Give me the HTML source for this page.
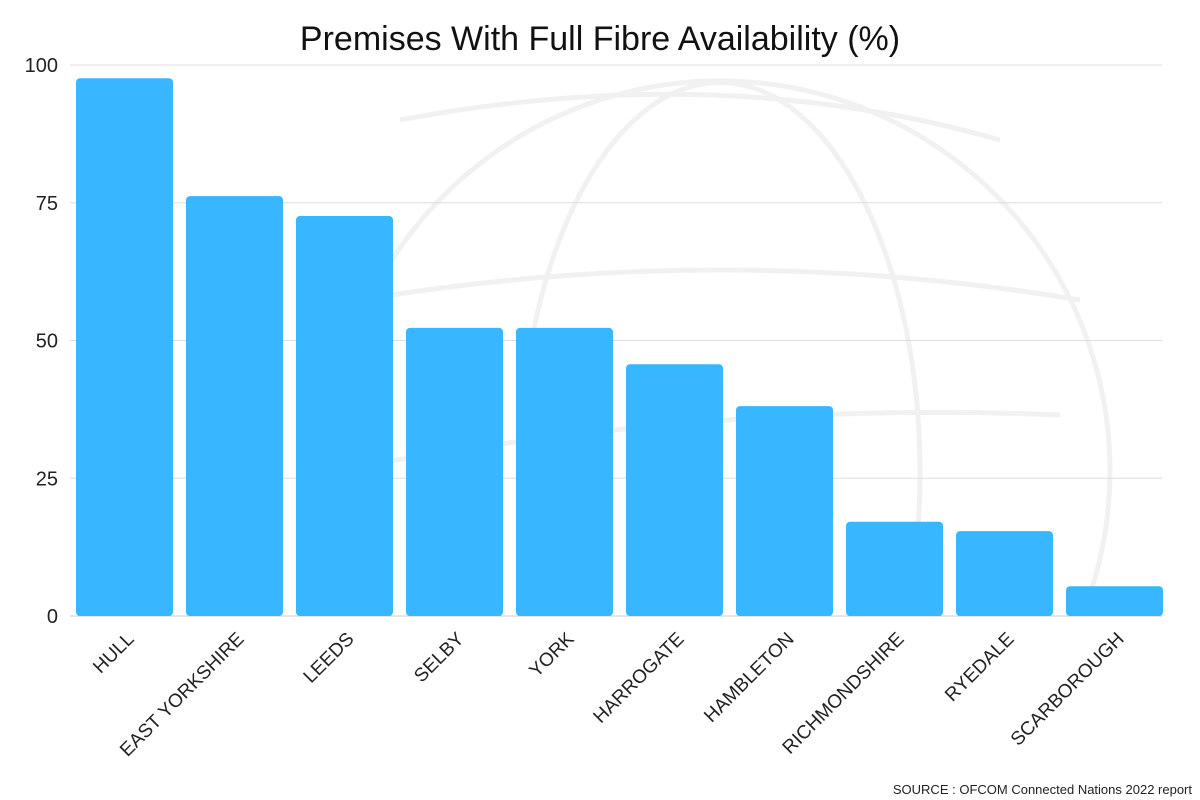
<!DOCTYPE html>
<html><head><meta charset="utf-8"><style>
html,body{margin:0;background:#fff;overflow:hidden;width:1200px;height:800px;}
svg{display:block;}
svg text{font-family:"Liberation Sans",sans-serif;}
</style></head><body>
<svg id="chart" width="1200" height="800" xmlns="http://www.w3.org/2000/svg">
<g fill="none" stroke="#f1f1f1" stroke-width="5">
<path d="M352 600 A390 390 0 1 1 1088 600"/>
<path d="M531 600 A200 390 0 1 1 909 600"/>
<path d="M360 300 Q720 240 1080 300"/>
<path d="M340 470 Q720 400 1060 415"/>
<path d="M400 120 Q720 60 1000 140"/>
</g>
<text x="600" y="50" text-anchor="middle" font-size="34" fill="#111">Premises With Full Fibre Availability (%)</text>
<g id="grid"></g><g id="bars"></g><g id="xlabels"></g>
<text x="1192" y="794" text-anchor="end" font-size="13" fill="#222">SOURCE :  OFCOM Connected Nations 2022 report</text>
</svg>
<script>
const categories=["HULL","EAST YORKSHIRE","LEEDS","SELBY","YORK","HARROGATE","HAMBLETON","RICHMONDSHIRE","RYEDALE","SCARBOROUGH"];
const values=[97.6,76.2,72.6,52.3,52.3,45.7,38.1,17.1,15.4,5.4];
const ticks=[0,25,50,75,100];
const NS="http://www.w3.org/2000/svg";
const x0=70,band=110,y0=616,y100=65;
const y=v=>y0-(y0-y100)*v/100;
const xb=i=>x0+i*band;
function mk(t,a,p){const e=document.createElementNS(NS,t);for(const k in a)e.setAttribute(k,a[k]);p.appendChild(e);return e;}
const grid=document.getElementById('grid'),bars=document.getElementById('bars'),xl=document.getElementById('xlabels');
ticks.forEach(t=>{
 const l=mk('line',{x1:70,x2:1162,y1:y(t),y2:y(t),stroke:t===0?'#ccc':'#ddd','stroke-width':1},grid);
 
 
 const tx=mk('text',{x:58,y:y(t)+7,'text-anchor':'end','font-size':20,fill:'#222'},grid);
 tx.textContent=t;
 
 
});
categories.forEach((c,i)=>{
 const r=mk('rect',{x:xb(i)+6,y:y(values[i]),width:97,height:y0-y(values[i]),rx:4,fill:'#38b6ff'},bars);
 
 
 const cx=xb(i)+band/2;
 const t=mk('text',{x:cx+10,y:640,'text-anchor':'end','font-size':19,fill:'#222',transform:`rotate(-45 ${cx+10} 640)`},xl);
 t.textContent=c;
 
 
});
</script>
</body></html>
